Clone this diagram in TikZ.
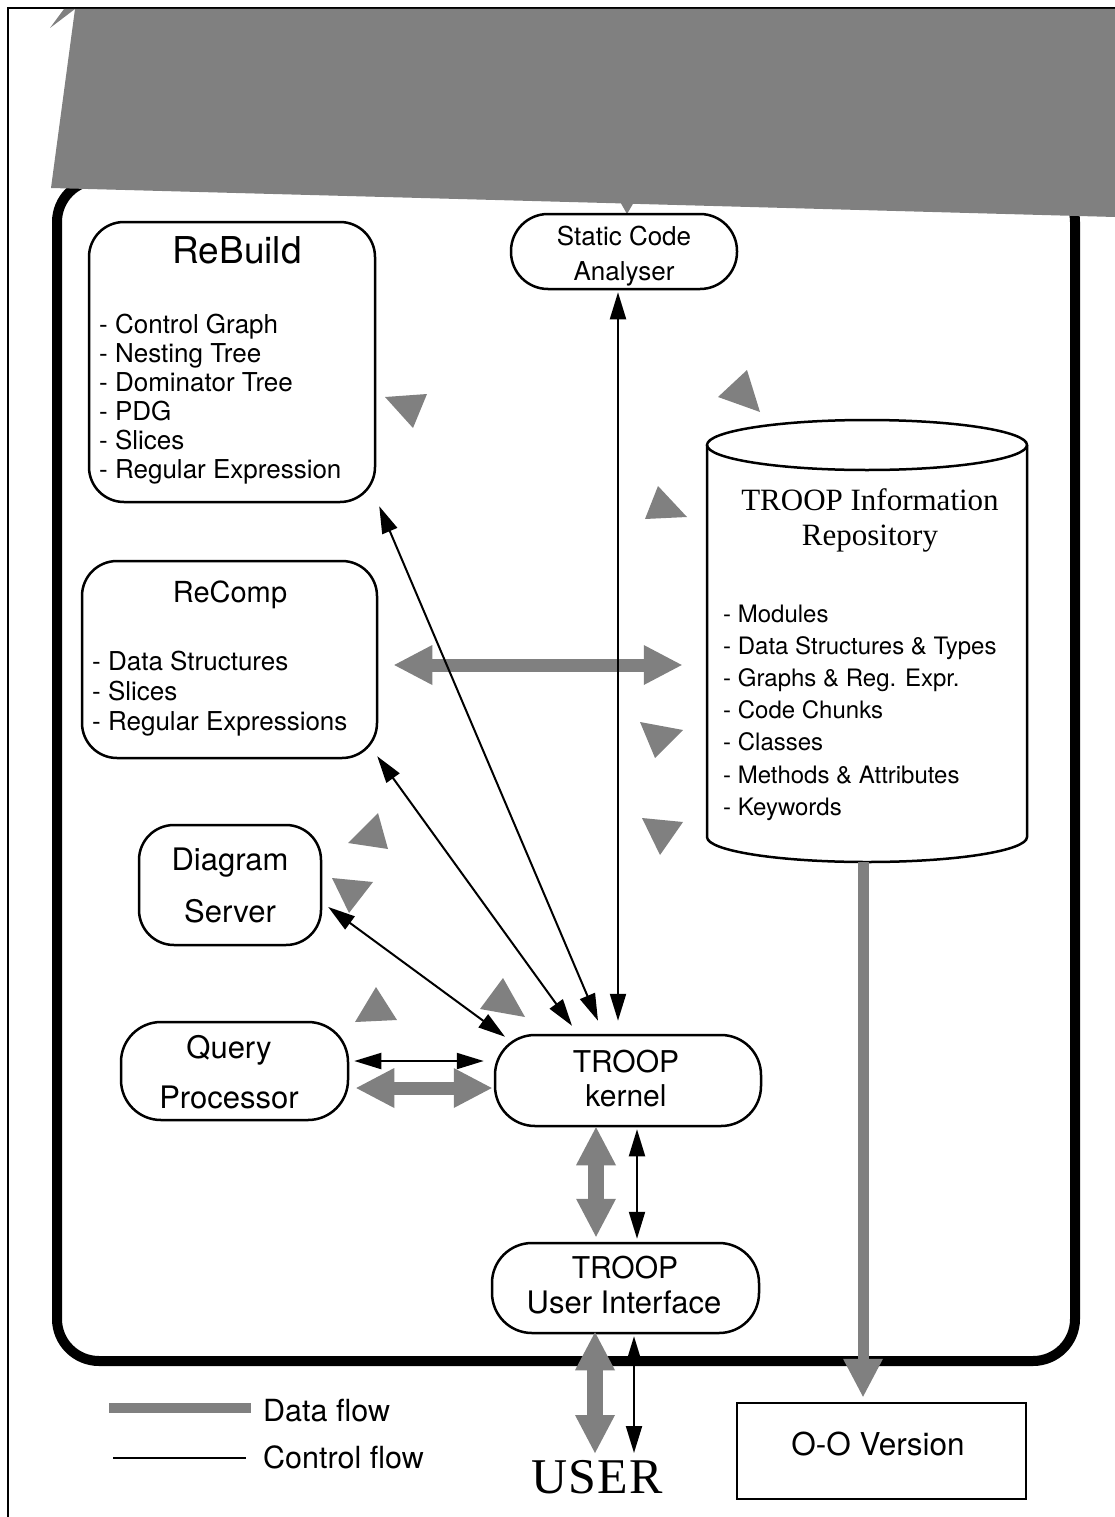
\documentclass[tikz,border=0pt]{standalone}
\usepackage{fontspec}
\setmainfont{Liberation Serif}
\setsansfont{TeX Gyre Heros}
\usetikzlibrary{arrows.meta}
\newcommand\fsz[1]{\fontsize{#1}{#1}\selectfont}
\definecolor{flowgray}{RGB}{128,128,128}
\begin{document}
\begin{tikzpicture}[x=1pt,y=-1pt,
  box/.style={draw, line width=2.5pt, rounded corners=#1, inner sep=0pt, fill=white},
  box/.default=35pt,
  lbl/.style={inner sep=0pt, font=\sffamily},
  ctrl/.style={line width=2pt, {Triangle[length=27pt,width=16pt]}-{Triangle[length=27pt,width=16pt]}},
  data/.style={line width=13pt, draw=flowgray, {Triangle[length=38pt,width=40pt,line width=0pt]}-{Triangle[length=38pt,width=40pt,line width=0pt]}},
  dataone/.style={line width=11pt, draw=flowgray, -{Triangle[length=38pt,width=40pt,line width=0pt]}},
  stray/.style={fill=flowgray, draw=none},
]
\useasboundingbox (0,0) rectangle (1115,1517);
% page border
\draw[line width=2pt] (8,1530) -- (8,8) -- (1130,8);
% outer frame
\draw[line width=10pt, rounded corners=42pt] (57,180) rectangle (1075,1361);
% large grey shape at top
\fill[flowgray] (75,9) -- (1115,9) -- (1115,217) -- (633,203.8) -- (627,214) -- (621,203.4) -- (51,188) -- cycle;
\fill[flowgray] (50,28) -- (64,9) -- (75,9) -- cycle;

% boxes
\node[box, minimum width=286pt, minimum height=280pt] (rebuild) at (232,362) {};
\node[box=37pt, minimum width=226pt, minimum height=75pt] (static) at (624,251.5) {};
\node[box, minimum width=295pt, minimum height=197pt] (recomp) at (229.5,659.5) {};
\node[box, minimum width=182pt, minimum height=120pt] (diagram) at (230,885) {};
\node[box=40pt, minimum width=227pt, minimum height=98pt] (query) at (234.5,1071) {};
\node[box=40pt, minimum width=266pt, minimum height=91pt] (kernel) at (628,1080.5) {};
\node[box=40pt, minimum width=267pt, minimum height=90pt] (ui) at (625.5,1288) {};
\node[draw, line width=2.5pt, inner sep=0pt, minimum width=289pt, minimum height=96pt] (oo) at (881.5,1451) {};
\node[inner sep=0pt, minimum width=320pt, minimum height=443pt] (repo) at (867,640.5) {};
% cylinder
\draw[line width=2.5pt] (707,445) -- (707,837) arc[start angle=180, end angle=0, x radius=160, y radius=25] -- (1027,445);
\draw[line width=2.5pt] (867,445) ellipse [x radius=160, y radius=25];

% texts
\node[lbl, anchor=base] (rebuildT) at (237,263) {\fsz{37}ReBuild};
\foreach \t [count=\i] in {Control Graph, Nesting Tree, Dominator Tree, PDG, Slices, Regular Expression}
  \node[lbl, anchor=base west] (rb\i) at (99,{333+29*(\i-1)}) {\fsz{26}- \t};
\node[lbl, anchor=base] (staticT1) at (624,245) {\fsz{26}Static Code};
\node[lbl, anchor=base] (staticT2) at (624,280) {\fsz{26}Analyser};
\node[lbl, anchor=base] (recompT) at (230,602) {\fsz{29}ReComp};
\foreach \t [count=\i] in {Data Structures, Slices, Regular Expressions}
  \node[lbl, anchor=base west] (rc\i) at (92,{670+30*(\i-1)}) {\fsz{26}- \t};
\node[lbl, anchor=base] (diagT1) at (230,870) {\fsz{31}Diagram};
\node[lbl, anchor=base] (diagT2) at (230,922) {\fsz{31}Server};
\node[lbl, anchor=base] (queryT1) at (229,1058) {\fsz{31}Query};
\node[lbl, anchor=base] (queryT2) at (229,1108) {\fsz{31}Processor};
\node[lbl, anchor=base] (kernelT1) at (626,1072) {\fsz{30}TROOP};
\node[lbl, anchor=base] (kernelT2) at (626,1106) {\fsz{30}kernel};
\node[lbl, anchor=base] (uiT1) at (625,1278) {\fsz{30}TROOP};
\node[lbl, anchor=base] (uiT2) at (624,1313) {\fsz{31}User Interface};
\node[lbl, anchor=base] (ooT) at (878,1455) {\fsz{31.5}O-O Version};
\node[inner sep=0pt, anchor=base] (repoT1) at (870,510) {\fsz{31}TROOP Information};
\node[inner sep=0pt, anchor=base] (repoT2) at (870,545) {\fsz{31}Repository};
\foreach \t [count=\i] in {Modules, Data Structures \& Types, Graphs \& Reg. Expr., Code Chunks, Classes, Methods \& Attributes, Keywords}
  \node[lbl, anchor=base west] (rp\i) at (723,{622+32.2*(\i-1)}) {\fsz{24}- \t};
\node[inner sep=0pt, anchor=base] (user) at (597,1493) {\fsz{50}U\kern1ptS\kern1ptE\kern1ptR};

% stray grey arrowheads
\fill[stray] (385,397) -- (427,394) -- (413,428) -- cycle;
\fill[stray] (718,397) -- (747,370) -- (760,412) -- cycle;
\fill[stray] (645,519) -- (658,486) -- (687,517) -- cycle;
\fill[stray] (640,722) -- (683,730) -- (655,758) -- cycle;
\fill[stray] (642,818) -- (683,822) -- (660,855) -- cycle;
\fill[stray] (348,843) -- (378,813) -- (388,849) -- cycle;
\fill[stray] (332,878) -- (373,882) -- (349,913) -- cycle;
\fill[stray] (355,1022) -- (376,987) -- (397,1020) -- cycle;
\fill[stray] (480,1009) -- (503,978) -- (525,1017) -- cycle;

% data flow connectors
\draw[data] ([xshift=16pt,yshift=-5.5pt]recomp.east) -- ([xshift=-25pt,yshift=-24.5pt]repo.west);
\draw[data] ([xshift=7pt,yshift=-17pt]query.east) -- ([xshift=-2pt,yshift=-7.5pt]kernel.west);
\draw[data, line width=16pt] ([xshift=-32pt]kernel.south) -- ([xshift=-29.5pt,yshift=5pt]ui.north);
\draw[data, line width=16pt] ([xshift=-30.5pt,yshift=2pt]ui.south) -- ([xshift=-2pt,yshift=40pt]user.base);
\draw[dataone] ([xshift=-4pt]repo.south) -- ([xshift=-18.5pt,yshift=5pt]oo.north);

% control flow connectors
\draw[ctrl] ([xshift=-6pt,yshift=-2pt]static.south) -- ([xshift=-10pt,yshift=13pt]kernel.north);
\draw[ctrl] ([xshift=3pt,yshift=-3pt]rebuild.south east) -- ([xshift=-30pt,yshift=13pt]kernel.north);
\draw[ctrl] ([xshift=-1pt,yshift=3pt]recomp.south east) -- ([xshift=-56pt,yshift=8pt]kernel.north);
\draw[ctrl] ([xshift=6pt,yshift=-22pt]diagram.east) -- ([xshift=-123pt,yshift=-3pt]kernel.north);
\draw[ctrl] ([xshift=5pt,yshift=10pt]query.east) -- ([xshift=-10pt,yshift=19.5pt]kernel.west);
\draw[ctrl] ([xshift=9pt,yshift=-2pt]kernel.south) -- ([xshift=11.5pt,yshift=3pt]ui.north);
\draw[ctrl] ([xshift=8.5pt,yshift=-2pt]ui.south) -- ([xshift=37pt,yshift=40pt]user.base);

% legend
\coordinate (dfa) at (109,1408);
\coordinate (dfb) at (251,1408);
\coordinate (cfa) at (113,1458);
\coordinate (cfb) at (246,1458);
\draw[flowgray, line width=10pt] (dfa) -- (dfb);
\draw[line width=2pt] (cfa) -- (cfb);
\node[lbl, anchor=base west] (lgd) at (263,1421) {\fsz{30.5}Data flow};
\node[lbl, anchor=base west] (lgc) at (263,1468) {\fsz{30.5}Control flow};
\end{tikzpicture}
\end{document}
